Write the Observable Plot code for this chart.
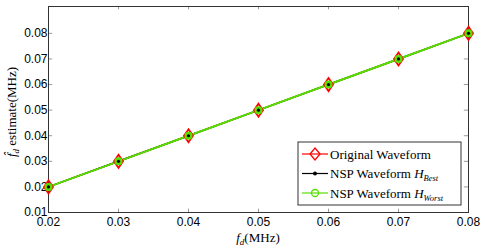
<!DOCTYPE html>
<html><head><meta charset="utf-8">
<script src="https://cdn.jsdelivr.net/npm/d3@7"></script>
<script src="https://cdn.jsdelivr.net/npm/@observablehq/plot@0.6"></script>
<style>
body{margin:0;background:#fff;}
#chart{position:relative;width:485px;height:249px;}
</style>
</head><body>
<div id="chart"></div>
<script>
const fd = [0.02, 0.03, 0.04, 0.05, 0.06, 0.07, 0.08];
const original = [0.02, 0.03, 0.04, 0.05, 0.06, 0.07, 0.08];
const best = [0.02, 0.03, 0.04, 0.05, 0.06, 0.07, 0.08];
const worst = [0.02, 0.03, 0.04, 0.05, 0.06, 0.07, 0.08];
const xTicks = [0.02, 0.03, 0.04, 0.05, 0.06, 0.07, 0.08];
const yTicks = [0.01, 0.02, 0.03, 0.04, 0.05, 0.06, 0.07, 0.08];
const seriesNames = ["Original Waveform", "NSP Waveform ", "NSP Waveform "];

const rows = (ys) => fd.map((x, i) => ({x, y: ys[i]}));
const dOrig = rows(original), dBest = rows(best), dWorst = rows(worst);
const GREEN = "#55e000";
const RED = "#ff0000";

const tallDiamond = {
  draw(ctx) {
    const w = 4.5, h = 6.5;
    ctx.moveTo(0, -h); ctx.lineTo(w, 0); ctx.lineTo(0, h); ctx.lineTo(-w, 0); ctx.closePath();
  }
};

const plot = Plot.plot({
  width: 485, height: 249,
  marginLeft: 48, marginRight: 17, marginTop: 6, marginBottom: 37,
  style: {fontFamily: "'Liberation Sans', Arial, sans-serif", fontSize: "12px", color: "#000", background: "#fff"},
  x: {domain: [0.02, 0.08]},
  y: {domain: [0.01, 0.0905]},
  marks: [
    Plot.axisX({anchor: "bottom", ticks: xTicks, tickFormat: d3.format(".2f"), tickSize: 0, tickPadding: 5, label: null, fontSize: 12}),
    Plot.axisY({anchor: "left", ticks: yTicks, tickFormat: d3.format(".2f"), tickSize: 0, tickPadding: 1, label: null, fontSize: 12}),
    Plot.ruleX(xTicks, {x: d => d, y1: 0.01, y2: 0.0113, stroke: "#999"}),
    Plot.ruleX(xTicks, {x: d => d, y1: 0.0905, y2: 0.0892, stroke: "#999"}),
    Plot.ruleY(yTicks, {y: d => d, x1: 0.02, x2: 0.0206, stroke: "#999"}),
    Plot.ruleY(yTicks, {y: d => d, x1: 0.08, x2: 0.0794, stroke: "#999"}),
    Plot.frame({stroke: "#333"}),
    Plot.line(dOrig, {x: "x", y: "y", stroke: RED, strokeWidth: 1.5}),
    Plot.line(dBest, {x: "x", y: "y", stroke: "#000", strokeWidth: 1.5}),
    Plot.line(dWorst, {x: "x", y: "y", stroke: GREEN, strokeWidth: 2}),
    Plot.dot(dOrig, {x: "x", y: "y", symbol: tallDiamond, r: 6, stroke: RED, strokeWidth: 1.8, fill: "none"}),
    Plot.dot(dWorst, {x: "x", y: "y", r: 3, stroke: GREEN, strokeWidth: 2, fill: GREEN}),
    Plot.dot(dBest, {x: "x", y: "y", r: 1.6, fill: "#000"})
  ]
});
document.getElementById("chart").appendChild(plot);

// axis labels with math subscripts
const svg = d3.select(plot);
const serif = "'Liberation Serif', 'DejaVu Serif', serif";
function serifText(sel) {
  return sel.attr("font-family", serif).style("font-family", serif).attr("font-weight", "normal").attr("fill", "#000");
}
const xl = serifText(svg.append("text").attr("x", 258).attr("y", 242).attr("text-anchor", "middle").attr("font-size", 13));
xl.append("tspan").attr("font-style", "italic").text("f");
xl.append("tspan").attr("font-style", "italic").attr("font-size", 9).attr("dy", 3).text("d");
xl.append("tspan").attr("dy", -3).text("(MHz)");

const yl = serifText(svg.append("text").attr("transform", "translate(16,112) rotate(-90)").attr("text-anchor", "middle").attr("font-size", 13));
yl.append("tspan").attr("font-style", "italic").text("f\u0302");
yl.append("tspan").attr("font-style", "italic").attr("font-size", 9).attr("dy", 3).text("d");
yl.append("tspan").attr("dy", -3).text(" estimate(MHz)");

// legend
const lg = svg.append("g").attr("transform", "translate(298,142)");
lg.append("rect").attr("width", 163).attr("height", 63).attr("fill", "#fff").attr("stroke", "#333");
const subs = [null, "Best", "Worst"];
const colors = [RED, "#000", GREEN];
seriesNames.forEach((name, i) => {
  const cy = 12 + i * 19.5;
  lg.append("line").attr("x1", 4).attr("x2", 30).attr("y1", cy).attr("y2", cy).attr("stroke", colors[i]).attr("stroke-width", 1.2);
  if (i === 0) {
    lg.append("path").attr("d", `M17,${cy-6}L22,${cy}L17,${cy+6}L12,${cy}Z`).attr("fill", "none").attr("stroke", RED).attr("stroke-width", 1.3);
  } else if (i === 1) {
    lg.append("circle").attr("cx", 17).attr("cy", cy).attr("r", 2).attr("fill", "#000");
  } else {
    lg.append("circle").attr("cx", 17).attr("cy", cy).attr("r", 3.5).attr("fill", "none").attr("stroke", GREEN).attr("stroke-width", 1.3);
  }
  const t = serifText(lg.append("text").attr("x", 32).attr("y", cy + 4.5).attr("text-anchor", "start").attr("font-size", 13));
  t.append("tspan").text(name);
  if (subs[i]) {
    t.append("tspan").attr("font-style", "italic").text("H");
    t.append("tspan").attr("font-style", "italic").attr("font-size", 8.5).attr("dy", 3).text(subs[i]);
  }
});
</script>
</body></html>
